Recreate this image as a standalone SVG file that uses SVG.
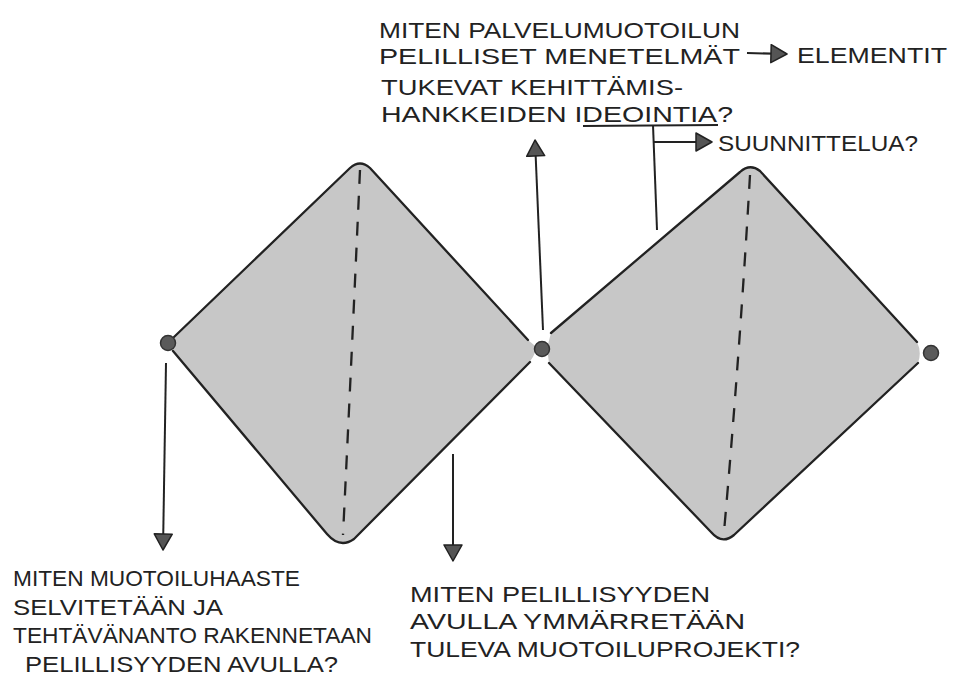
<svg xmlns="http://www.w3.org/2000/svg" width="955" height="679" viewBox="0 0 955 679">
<style>
.fill{fill:#c7c7c7;stroke:none}
.edge{fill:none;stroke:#222;stroke-width:2.3;stroke-linecap:round;stroke-linejoin:round}
.dash{fill:none;stroke:#222;stroke-width:2.3;stroke-dasharray:14 12}
.dot{fill:#5a5a5a;stroke:#333;stroke-width:1.5}
.con{fill:none;stroke:#222;stroke-width:2}
.t{font-family:"Liberation Sans",Arial,sans-serif;fill:#222;font-size:22px}
.tb{font-family:"Liberation Sans",Arial,sans-serif;fill:#222;font-size:22px}
</style>
<defs>
<marker id="ah" viewBox="0 0 18 20" refX="17" refY="10" markerWidth="18" markerHeight="20" markerUnits="userSpaceOnUse" orient="auto">
<path d="M1,1 L17,10 L1,19 Z" fill="#555" stroke="#222" stroke-width="1.5" stroke-linejoin="round"/>
</marker>
</defs>
<rect width="955" height="679" fill="#fff"/>

<g id="diamond-left">
<path class="fill" d="M172 343 L174 337 L350 168 Q360 159 370 168 L528 340 L534 345 Q538 350 531 360 L354 539 Q340 549 327 534 L173 351 Z"/>
<path class="edge" d="M174 337 L350 168 Q360 159 370 168 L528 340"/>
<path class="edge" d="M173 351 L327 534 Q340 549 354 539 L530 362"/>
<path class="dash" d="M360 170 Q352 350 343 535"/>
</g>

<g id="diamond-right">
<path class="fill" d="M551 333 L740 172 Q750 163 760 171 L917 342 Q922 352 918 363 L734 535 Q722 545 711 532 L549 363 L547 348 Z"/>
<path class="edge" d="M551 333 L740 172 Q750 163 760 171 L917 342"/>
<path class="edge" d="M549 363 L711 532 Q722 545 734 535 L918 363"/>
<path class="dash" d="M750 175 Q740 350 724 532"/>
</g>

<g id="dot-left"><circle class="dot" cx="168" cy="343" r="7.5"/></g>
<g id="dot-middle"><circle class="dot" cx="542" cy="349" r="7.5"/></g>
<g id="dot-right"><circle class="dot" cx="931" cy="353" r="7.5"/></g>

<g id="connectors">
<path class="con" d="M166 363 L163 550" marker-end="url(#ah)"/>
<path class="con" d="M453 454 L453 561" marker-end="url(#ah)"/>
<path class="con" d="M543 330 L535 140" marker-end="url(#ah)"/>
<path class="con" d="M653 125 L657 230"/>
<path class="con" d="M653 142 L712 142" marker-end="url(#ah)"/>
<path class="con" d="M747 53 L787 54" marker-end="url(#ah)"/>
<path class="con" d="M583 126 L718 125"/>
</g>

<g id="text-top">
<text class="t" x="379" y="38" textLength="361" lengthAdjust="spacingAndGlyphs">MITEN PALVELUMUOTOILUN</text>
<text class="t" x="379" y="64" textLength="361" lengthAdjust="spacingAndGlyphs">PELILLISET MENETELMÄT</text>
<text class="t" x="381" y="95" textLength="302" lengthAdjust="spacingAndGlyphs">TUKEVAT KEHITTÄMIS-</text>
<text class="t" x="381" y="122" textLength="352" lengthAdjust="spacingAndGlyphs">HANKKEIDEN IDEOINTIA?</text>
</g>
<g id="text-elementit">
<text class="t" x="797" y="63" textLength="150" lengthAdjust="spacingAndGlyphs">ELEMENTIT</text>
</g>
<g id="text-suunnittelua">
<text class="t" x="718" y="151" textLength="200" lengthAdjust="spacingAndGlyphs">SUUNNITTELUA?</text>
</g>
<g id="text-bottom-left">
<text class="tb" x="13" y="586" textLength="287" lengthAdjust="spacingAndGlyphs">MITEN MUOTOILUHAASTE</text>
<text class="tb" x="13" y="615" textLength="210" lengthAdjust="spacingAndGlyphs">SELVITETÄÄN JA</text>
<text class="tb" x="13" y="643" textLength="359" lengthAdjust="spacingAndGlyphs">TEHTÄVÄNANTO RAKENNETAAN</text>
<text class="tb" x="25" y="672" textLength="313" lengthAdjust="spacingAndGlyphs">PELILLISYYDEN AVULLA?</text>
</g>
<g id="text-bottom-middle">
<text class="tb" x="410" y="602" textLength="300" lengthAdjust="spacingAndGlyphs">MITEN PELILLISYYDEN</text>
<text class="tb" x="410" y="629" textLength="335" lengthAdjust="spacingAndGlyphs">AVULLA YMMÄRRETÄÄN</text>
<text class="tb" x="410" y="657" textLength="390" lengthAdjust="spacingAndGlyphs">TULEVA MUOTOILUPROJEKTI?</text>
</g>
</svg>
